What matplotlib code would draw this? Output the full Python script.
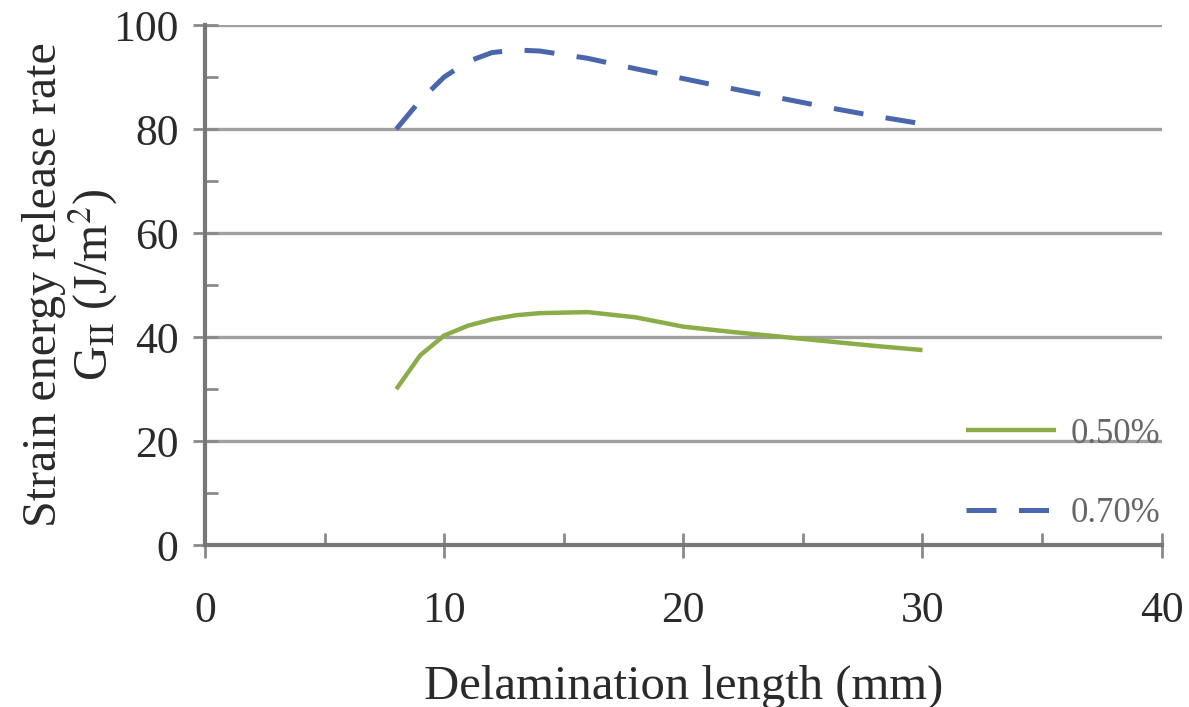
import matplotlib
matplotlib.use("Agg")
import matplotlib.pyplot as plt
from matplotlib.ticker import MultipleLocator

plt.rcParams['font.family'] = ['Liberation Serif', 'DejaVu Serif']
plt.rcParams['mathtext.fontset'] = 'stix'

# Data
x_mm = [8, 9, 10, 11, 12, 13, 14, 16, 18, 20, 22, 24, 26, 28, 30]
g_050 = [30, 36.5, 40.3, 42.2, 43.4, 44.2, 44.6, 44.8, 43.8, 42.0, 41.0, 40.1, 39.2, 38.3, 37.5]
g_070 = [80, 85.5, 90, 93, 94.7, 95.2, 95.0, 93.6, 91.6, 89.7, 87.8, 86.0, 84.2, 82.5, 81.0]
series_labels = ['0.50%', '0.70%']
x_ticks = [0, 10, 20, 30, 40]
y_ticks = [0, 20, 40, 60, 80, 100]

fig = plt.figure(figsize=(11.89, 7.07), dpi=100)
ax = fig.add_axes([0.1724, 0.229, 0.977 - 0.1724, 0.9646 - 0.229])

ax.set_xlim(0, 40)
ax.set_ylim(0, 100)

ax.yaxis.grid(True, color='#a0a0a0', linewidth=2.4, zorder=0)
ax.set_axisbelow(True)

ax.plot(x_mm, g_050, color='#8BAC47', linewidth=3.2, label=series_labels[0],
        solid_capstyle='butt', solid_joinstyle='round', zorder=3)
ax.plot(x_mm, g_070, color='#4A66AC', linewidth=3.6, label=series_labels[1],
        dashes=(6, 4.5), dash_capstyle='butt', zorder=3)

for s in ['top', 'right']:
    ax.spines[s].set_visible(False)
for s in ['left', 'bottom']:
    ax.spines[s].set_color('#777777')
    ax.spines[s].set_linewidth(3)

ax.set_xticks(x_ticks)
ax.set_yticks(y_ticks)
ax.xaxis.set_minor_locator(MultipleLocator(5))
ax.yaxis.set_minor_locator(MultipleLocator(10))
ax.tick_params(axis='both', which='major', direction='inout', length=18, width=2,
               color='#8a8a8a', labelsize=31.5, labelcolor='#2a2a2a')
ax.tick_params(axis='x', which='major', pad=24)
ax.tick_params(axis='y', which='major', pad=10)
ax.tick_params(axis='both', which='minor', direction='in', length=9, width=2,
               color='#8a8a8a')

ax.set_xlabel('Delamination length (mm)', fontsize=35, color='#2a2a2a', labelpad=24)
ax.set_ylabel('Strain energy release rate\nG$_{\\mathrm{II}}$ (J/m$^{2}$)', fontsize=34.5,
              color='#2a2a2a', labelpad=-5, linespacing=1.0)

leg = ax.legend(loc='lower right', bbox_to_anchor=(1.031, -0.032), frameon=False,
                fontsize=25, handlelength=2.6, labelspacing=1.35, handletextpad=0.4,
                labelcolor='#666666')

fig.savefig('out.png', dpi=100)
